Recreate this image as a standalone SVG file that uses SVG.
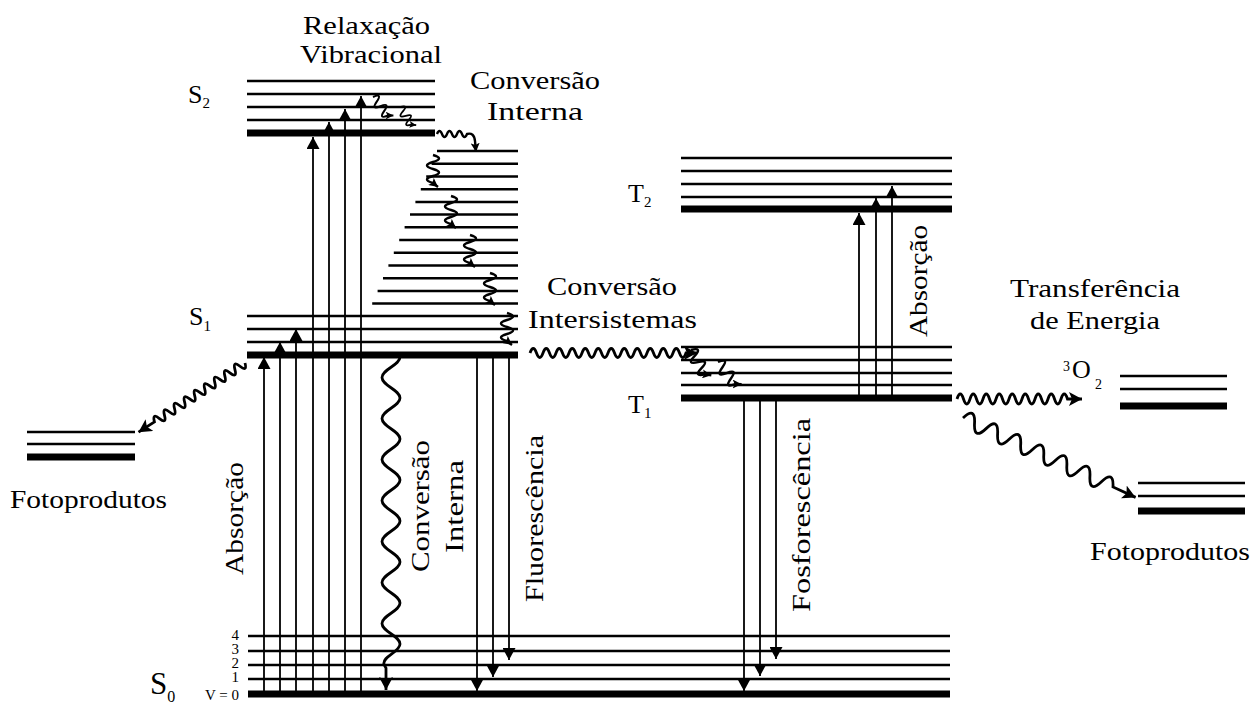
<svg xmlns="http://www.w3.org/2000/svg" width="1256" height="704" viewBox="0 0 1256 704">
<style>
text{font-family:"Liberation Serif","DejaVu Serif",serif;font-size:26px;fill:#000}
.lv{stroke:#000;stroke-width:2.5}
.lt{stroke:#000;stroke-width:7}
.ar{stroke:#000;stroke-width:1.8;marker-end:url(#ah)}
.wv{fill:none;stroke:#000;stroke-width:2.8;marker-end:url(#wh)}
.sq{fill:none;stroke:#000;stroke-width:2.4;marker-end:url(#sh)}
.sm{font-size:15px}
</style>
<defs>
<marker id="ah" viewBox="0 0 12 13" refX="12" refY="6.5" markerWidth="12" markerHeight="13" markerUnits="userSpaceOnUse" orient="auto"><path d="M0,0 L12,6.5 L0,13 z" fill="#000"/></marker>
<marker id="wh" viewBox="0 0 13 14" refX="13" refY="7" markerWidth="13" markerHeight="14" markerUnits="userSpaceOnUse" orient="auto"><path d="M0,0 L13,7 L0,14 L3,7 z" fill="#000"/></marker>
<marker id="sh" viewBox="0 0 9 9" refX="9" refY="4.5" markerWidth="9" markerHeight="9" markerUnits="userSpaceOnUse" orient="auto"><path d="M0,0 L9,4.5 L0,9 L2,4.5 z" fill="#000"/></marker>
<path id="squig" d="M0,0 q12,3.5 0,7 t0,7 t0,7 t0,7 l5,4"/>
</defs>

<g id="S2">
<line class="lv" x1="247" y1="81" x2="435" y2="81"/>
<line class="lv" x1="247" y1="94" x2="435" y2="94"/>
<line class="lv" x1="247" y1="107" x2="435" y2="107"/>
<line class="lv" x1="247" y1="120" x2="435" y2="120"/>
<line class="lt" x1="247" y1="133" x2="435" y2="133"/>
<text x="188" y="103">S<tspan class="sm" dy="5">2</tspan></text>
</g>

<g id="S1-hot">
<line class="lv" x1="437" y1="151" x2="518" y2="151"/>
<line class="lv" x1="431.6" y1="163.7" x2="518" y2="163.7"/>
<line class="lv" x1="426.2" y1="176.4" x2="518" y2="176.4"/>
<line class="lv" x1="420.8" y1="189.2" x2="518" y2="189.2"/>
<line class="lv" x1="415.4" y1="201.9" x2="518" y2="201.9"/>
<line class="lv" x1="410" y1="214.6" x2="518" y2="214.6"/>
<line class="lv" x1="404.6" y1="227.3" x2="518" y2="227.3"/>
<line class="lv" x1="399.2" y1="240" x2="518" y2="240"/>
<line class="lv" x1="393.8" y1="252.8" x2="518" y2="252.8"/>
<line class="lv" x1="388.4" y1="265.5" x2="518" y2="265.5"/>
<line class="lv" x1="383" y1="278.2" x2="518" y2="278.2"/>
<line class="lv" x1="377.6" y1="290.9" x2="518" y2="290.9"/>
<line class="lv" x1="372.2" y1="303.6" x2="518" y2="303.6"/>
</g>

<g id="S1">
<line class="lv" x1="247" y1="316" x2="518" y2="316"/>
<line class="lv" x1="247" y1="329" x2="518" y2="329"/>
<line class="lv" x1="247" y1="342" x2="518" y2="342"/>
<line class="lt" x1="247" y1="355" x2="518" y2="355"/>
<text x="189" y="325">S<tspan class="sm" dy="6">1</tspan></text>
</g>

<g id="S0">
<line class="lv" x1="248" y1="636" x2="950" y2="636"/>
<line class="lv" x1="248" y1="651" x2="950" y2="651"/>
<line class="lv" x1="248" y1="665" x2="950" y2="665"/>
<line class="lv" x1="248" y1="679" x2="950" y2="679"/>
<line class="lt" x1="248" y1="694" x2="950" y2="694"/>
<text x="150" y="694" style="font-size:31px">S<tspan style="font-size:16px" dy="8">0</tspan></text>
<text class="sm" x="239" y="640" text-anchor="end">4</text>
<text class="sm" x="239" y="654" text-anchor="end">3</text>
<text class="sm" x="239" y="668" text-anchor="end">2</text>
<text class="sm" x="239" y="682" text-anchor="end">1</text>
<text class="sm" x="239" y="700" text-anchor="end">V = 0</text>
</g>

<g id="T2">
<line class="lv" x1="681" y1="158" x2="952" y2="158"/>
<line class="lv" x1="681" y1="171" x2="952" y2="171"/>
<line class="lv" x1="681" y1="184" x2="952" y2="184"/>
<line class="lv" x1="681" y1="197" x2="952" y2="197"/>
<line class="lt" x1="681" y1="209" x2="952" y2="209"/>
<text x="628" y="202">T<tspan class="sm" dy="5">2</tspan></text>
</g>

<g id="T1">
<line class="lv" x1="681" y1="347" x2="952" y2="347"/>
<line class="lv" x1="681" y1="360" x2="952" y2="360"/>
<line class="lv" x1="681" y1="373" x2="952" y2="373"/>
<line class="lv" x1="681" y1="385" x2="952" y2="385"/>
<line class="lt" x1="681" y1="398" x2="952" y2="398"/>
<text x="628" y="413">T<tspan class="sm" dy="5">1</tspan></text>
</g>

<g id="O2">
<line class="lv" x1="1120" y1="376" x2="1227" y2="376"/>
<line class="lv" x1="1120" y1="389" x2="1227" y2="389"/>
<line class="lt" x1="1120" y1="406" x2="1227" y2="406"/>
<text x="1063" y="371" style="font-size:14px">3</text>
<text x="1072" y="378">O</text>
<text x="1095" y="389" style="font-size:14px">2</text>
</g>

<g id="fotoprodutos-esq">
<line class="lv" x1="27" y1="432" x2="135" y2="432"/>
<line class="lv" x1="27" y1="444" x2="135" y2="444"/>
<line class="lt" x1="27" y1="457" x2="135" y2="457"/>
<text x="10" y="508" textLength="157" lengthAdjust="spacingAndGlyphs">Fotoprodutos</text>
</g>

<g id="fotoprodutos-dir">
<line class="lv" x1="1138" y1="483" x2="1245" y2="483"/>
<line class="lv" x1="1138" y1="496" x2="1245" y2="496"/>
<line class="lt" x1="1138" y1="511" x2="1245" y2="511"/>
<text x="1090" y="560" textLength="160" lengthAdjust="spacingAndGlyphs">Fotoprodutos</text>
</g>

<g id="labels">
<text x="303" y="34" textLength="127" lengthAdjust="spacingAndGlyphs">Relaxação</text>
<text x="300" y="63" textLength="142" lengthAdjust="spacingAndGlyphs">Vibracional</text>
<text x="470" y="89" textLength="130" lengthAdjust="spacingAndGlyphs">Conversão</text>
<text x="487" y="120" textLength="96" lengthAdjust="spacingAndGlyphs">Interna</text>
<text x="547" y="295" textLength="130" lengthAdjust="spacingAndGlyphs">Conversão</text>
<text x="528" y="328" textLength="169" lengthAdjust="spacingAndGlyphs">Intersistemas</text>
<text x="1010" y="297" textLength="170" lengthAdjust="spacingAndGlyphs">Transferência</text>
<text x="1030" y="329" textLength="130" lengthAdjust="spacingAndGlyphs">de Energia</text>
<text transform="translate(243,575) rotate(-90)" textLength="113" lengthAdjust="spacingAndGlyphs">Absorção</text>
<text transform="translate(429,572) rotate(-90)" textLength="132" lengthAdjust="spacingAndGlyphs">Conversão</text>
<text transform="translate(463,553) rotate(-90)" textLength="93" lengthAdjust="spacingAndGlyphs">Interna</text>
<text transform="translate(543,602) rotate(-90)" textLength="167" lengthAdjust="spacingAndGlyphs">Fluorescência</text>
<text transform="translate(810,612) rotate(-90)" textLength="194" lengthAdjust="spacingAndGlyphs">Fosforescência</text>
<text transform="translate(927,337) rotate(-90)" textLength="112" lengthAdjust="spacingAndGlyphs">Absorção</text>
</g>

<g id="connectors">
<line class="ar" x1="264" y1="694" x2="264" y2="357"/>
<line class="ar" x1="280" y1="694" x2="280" y2="342"/>
<line class="ar" x1="296" y1="694" x2="296" y2="329"/>
<line class="ar" x1="313" y1="694" x2="313" y2="137"/>
<line class="ar" x1="329" y1="694" x2="329" y2="122"/>
<line class="ar" x1="345" y1="694" x2="345" y2="109"/>
<line class="ar" x1="361" y1="694" x2="361" y2="96"/>
<line class="ar" x1="477" y1="356" x2="477" y2="691"/>
<line class="ar" x1="493" y1="356" x2="493" y2="677"/>
<line class="ar" x1="509" y1="356" x2="509" y2="660"/>
<line class="ar" x1="744" y1="399" x2="744" y2="691"/>
<line class="ar" x1="760" y1="399" x2="760" y2="676"/>
<line class="ar" x1="776" y1="399" x2="776" y2="659"/>
<line class="ar" x1="859" y1="398" x2="859" y2="213"/>
<line class="ar" x1="876" y1="398" x2="876" y2="198"/>
<line class="ar" x1="892" y1="398" x2="892" y2="186"/>

<path class="wv" d="M400,357 C400,365.2 382,369.3 382,377.5 S400,389.8 400,398 S382,410.3 382,418.5 S400,430.8 400,439 S382,451.3 382,459.5 S400,471.8 400,480 S382,492.3 382,500.5 S400,512.8 400,521 S382,533.3 382,541.5 S400,553.8 400,562 S382,574.3 382,582.5 S400,594.8 400,603 S382,615.3 382,623.5 S400,635.8 400,644 S382,656.3 384,664.5 L386,668 L386,690"/>

<path class="wv" d="M530,353 q3.25,-9 6.5,0 t6.5,0 t6.5,0 t6.5,0 t6.5,0 t6.5,0 t6.5,0 t6.5,0 t6.5,0 t6.5,0 t6.5,0 t6.5,0 t6.5,0 t6.5,0 t6.5,0 t6.5,0 t6.5,0 t6.5,0 t6.5,0 t6.5,0 t6.5,0 t6.5,0 t6.5,0 t6.5,0 L697,353"/>

<path class="wv" d="M957,399 q3.25,-10 6.5,0 t6.5,0 t6.5,0 t6.5,0 t6.5,0 t6.5,0 t6.5,0 t6.5,0 t6.5,0 t6.5,0 t6.5,0 t6.5,0 t6.5,0 t6.5,0 t6.5,0 t6.5,0 t6.5,0 L1082,399"/>

<path class="wv" transform="translate(245,363) rotate(147)" d="M0,0 q3,-9 6,0 t6,0 t6,0 t6,0 t6,0 t6,0 t6,0 t6,0 t6,0 t6,0 t6,0 t6,0 t6,0 t6,0 t6,0 t6,0 t6,0 t6,0 L127,0"/>

<path class="wv" transform="translate(963,418) rotate(24.7)" d="M0,0 q6.35,-16 12.7,0 t12.7,0 t12.7,0 t12.7,0 t12.7,0 t12.7,0 t12.7,0 t12.7,0 t12.7,0 t12.7,0 t12.7,0 t12.7,0 t12.7,0 L190,0"/>

<path class="sq" d="M437,134 q2.5,-6 5,0 t5,0 t5,0 t5,0 t5,0 t5,0 Q474,132 475,141 L476,152"/>

<use href="#squig" class="sq" transform="translate(433,155)"/>
<use href="#squig" class="sq" transform="translate(451,196)"/>
<use href="#squig" class="sq" transform="translate(470,235)"/>
<use href="#squig" class="sq" transform="translate(490,273)"/>
<use href="#squig" class="sq" transform="translate(507,313)"/>
<use href="#squig" class="sq" transform="translate(373,97) rotate(-39) scale(0.85)"/>
<use href="#squig" class="sq" transform="translate(400,107) rotate(-33) scale(0.75)"/>
<use href="#squig" class="sq" transform="translate(691,350) rotate(-30)"/>
<use href="#squig" class="sq" transform="translate(718,362) rotate(-38)"/>
</g>
</svg>
